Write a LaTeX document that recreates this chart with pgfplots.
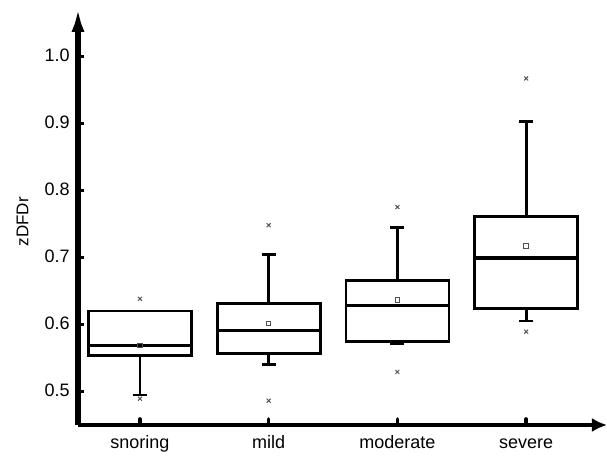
\documentclass[border=0pt]{standalone}
\usepackage{fontspec}
\setmainfont{Liberation Sans}
\usepackage{pgfplots}
\pgfplotsset{compat=1.18}
\usepgfplotslibrary{statistics}
\usetikzlibrary{arrows.meta}
\definecolor{markgray}{RGB}{80,80,80}
\begin{document}
\fontsize{9}{11}\selectfont
\begin{tikzpicture}
\begin{axis}[
  name=ax,
  scale only axis,
  width=264.5pt, height=209pt,
  xmin=0.519, xmax=4.628,
  ymin=0.4507, ymax=1.0746,
  axis lines=left,
  x axis line style={line width=2pt, -{Latex[length=7.5pt,width=7pt]}},
  y axis line style={line width=2.8pt, -{Latex[length=12.5pt,width=6.5pt]}},
  xtick={1,2,3,4},
  xticklabels={snoring,mild,moderate,severe},
  ytick={0.5,0.6,0.7,0.8,0.9,1.0},
  yticklabels={0.5,0.6,0.7,0.8,0.9,1.0},
  tick align=inside,
  major tick length=3pt,
  xtick style={line width=1.8pt, line cap=round, black},
  ytick style={line width=1.5pt, black},
  typeset ticklabels with strut,
  xticklabel style={font=\fontsize{9}{11}\selectfont, yshift=-1pt},
  yticklabel style={font=\fontsize{9}{11}\selectfont, xshift=-1pt},
  ylabel={zDFDr},
  ylabel style={font=\fontsize{8.5}{10}\selectfont, at={(axis description cs:-0.105,0.486)}, anchor=center, rotate=0},
  clip=false,
  boxplot/draw direction=y,
  boxplot/every box/.style={draw=black, line width=1.4pt},
  boxplot/every whisker/.style={draw=black, line width=1.4pt},
  boxplot/every median/.style={draw=black, line width=1.7pt},
]
\addplot+[black, line width=1.4pt, mark=x, mark size=1.4pt, mark options={markgray, line width=0.5pt, solid},
  boxplot prepared={draw position=1, median=0.569, upper quartile=0.621, lower quartile=0.554,
  upper whisker=0.621, lower whisker=0.4955, box extend=0.8, whisker extend=0.11}]
  table[row sep=\\, y index=0] {data\\0.639\\0.490\\};
\addplot+[black, line width=1.4pt, mark=x, mark size=1.4pt, mark options={markgray, line width=0.5pt, solid},
  boxplot prepared={draw position=2, median=0.592, upper quartile=0.632, lower quartile=0.557,
  upper whisker=0.705, lower whisker=0.541, box extend=0.8, whisker extend=0.11}]
  table[row sep=\\, y index=0] {data\\0.749\\0.487\\};
\addplot+[black, line width=1.4pt, mark=x, mark size=1.4pt, mark options={markgray, line width=0.5pt, solid},
  boxplot prepared={draw position=3, median=0.629, upper quartile=0.666, lower quartile=0.575,
  upper whisker=0.745, lower whisker=0.572, box extend=0.8, whisker extend=0.11}]
  table[row sep=\\, y index=0] {data\\0.776\\0.530\\};
\addplot+[black, line width=1.4pt, mark=x, mark size=1.4pt, mark options={markgray, line width=0.5pt, solid},
  boxplot prepared={draw position=4, median=0.700, upper quartile=0.762, lower quartile=0.624,
  upper whisker=0.904, lower whisker=0.606, box extend=0.8, whisker extend=0.11}]
  table[row sep=\\, y index=0] {data\\0.968\\0.590\\};
% means
\addplot[only marks, mark=square, mark size=1.1pt, mark options={markgray, line width=0.5pt}]
  coordinates {(1,0.569) (2,0.602) (3,0.637) (4,0.718)};
\end{axis}
\pgfresetboundingbox
\path[use as bounding box] ([xshift=-39pt,yshift=-15.5pt]ax.south west) rectangle ([yshift=3.5pt]ax.north east);
\end{tikzpicture}
\end{document}
